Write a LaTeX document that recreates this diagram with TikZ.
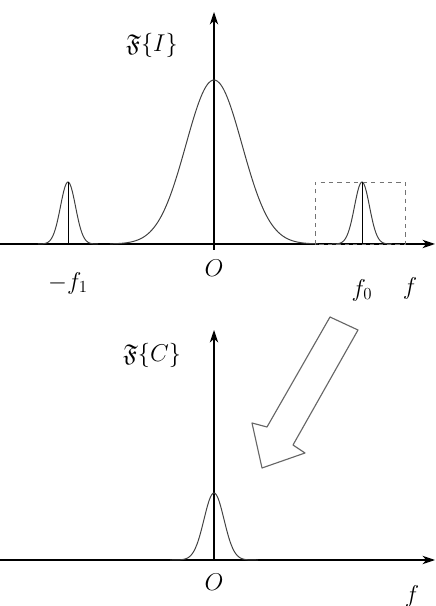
\documentclass[tikz,border=0pt]{standalone}
\usepackage{amsmath}
\usepackage{amssymb}
\usepackage{tikz}
\usetikzlibrary{arrows.meta, positioning, calc}

\begin{document}
\begin{tikzpicture}[
  x=0.025cm, y=0.025cm,
  ax/.style={line width=0.9pt, ->, >={Stealth[length=9pt, width=6pt]}},
  crv/.style={line width=0.7pt, black!75},
  stem/.style={line width=0.7pt},
  lbl/.style={font=\LARGE, inner sep=1pt},
  win/.style={dashed, black!55, line width=0.7pt},
  hollow/.style={draw=black!60, line width=0.8pt, line join=round, fill=white}
]
  \useasboundingbox (0,0) rectangle (435,606);

  % Top spectrum: axes
  \coordinate (o1) at (214,362);
  \coordinate (xl1) at (0,362);
  \coordinate (xr1) at (435,362);
  \coordinate (yb1) at (214,356);
  \coordinate (yt1) at (214,594);
  \draw[ax] (xl1) -- (xr1);
  \draw[ax] (yb1) -- (yt1);

  % Central lobe and side lobes
  \draw[crv] plot[domain=110:318, samples=90, smooth] (\x, {362 + 164*exp(-((\x-214)/28)^2/2)});
  \foreach \c in {68, 362} {
    \draw[crv] plot[domain=\c-30:\c+30, samples=50, smooth] (\x, {362 + 62*exp(-((\x-\c)/7.5)^2/2)});
    \draw[stem] (\c,362) -- (\c,424);
  }

  % Filter window
  \draw[win] (315,362) rectangle (405,424);

  % Top labels
  \node[lbl] (fi) at (152,561) {$\mathfrak{F}\{I\}$};
  \node[lbl] (mf1) at (68,323) {$-f_1$};
  \node[lbl] (z1) at (214,338) {$O$};
  \node[lbl] (f0) at (362,316) {$f_0$};
  \node[lbl] (f1) at (410,318) {$f$};

  % Bottom spectrum: axes
  \coordinate (o2) at (214,46);
  \coordinate (xl2) at (0,46);
  \coordinate (xr2) at (435,46);
  \coordinate (yt2) at (214,276);
  \draw[ax] (xl2) -- (xr2);
  \draw[ax] (o2) -- (yt2);
  \draw[crv] plot[domain=170:258, samples=60, smooth] (\x, {46 + 67*exp(-((\x-214)/10)^2/2)});

  % Bottom labels
  \node[lbl] (fc) at (152,251) {$\mathfrak{F}\{C\}$};
  \node[lbl] (z2) at (214,24) {$O$};
  \node[lbl] (f2) at (412,10) {$f$};

  % Hollow arrow
  \draw[hollow] (330,289) -- (358,276) -- (293,161) -- (305,153) -- (262,138)
    -- (252,183) -- (267,179) -- cycle;
\end{tikzpicture}
\end{document}
